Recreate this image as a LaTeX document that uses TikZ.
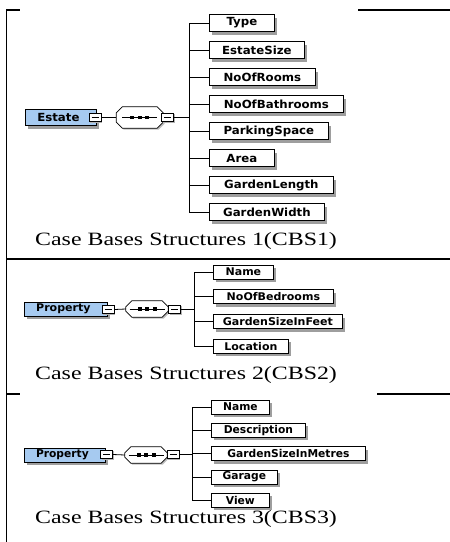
\documentclass[tikz,border=0pt]{standalone}
\usepackage{fontspec}
\setmainfont{Liberation Serif}
\newfontfamily\xsdfont{DejaVu Sans}
\usetikzlibrary{shadows,calc}

\definecolor{rootblue}{RGB}{166,202,240}

% labels are set slightly wide, as the schema viewer draws them
\def\labelsx{1.05}
\newcommand\boxlabel[1]{\scalebox{\labelsx}[1]{#1}}
\newcommand\captext[1]{\scalebox{1.27}[1]{#1}}

\tikzset{
  x=1pt, y=-1pt,
  frameline/.style={line width=1.1pt, line cap=rect},
  wire/.style={line width=0.8pt},
  elem/.style={draw, line width=0.8pt, fill=white, inner sep=0pt,
    drop shadow={shadow xshift=3pt, shadow yshift=-3pt, fill=black!38, opacity=1}},
  rootelem/.style={elem, fill=rootblue},
  minusbox/.style={draw, fill=white, line width=0.7pt, inner sep=0pt,
    minimum width=12pt, minimum height=8.5pt,
    drop shadow={shadow xshift=1.2pt, shadow yshift=-1.2pt, fill=black!30, opacity=1},
    path picture={\draw[line width=0.7pt] ($(path picture bounding box.center)+(-3.5,0)$) -- ++(7,0);}},
  caption/.style={anchor=base west, inner sep=0pt, font=\fontsize{18.8}{22}\selectfont},
}

% sequence compositor: octagon with a dotted bar, drawn round an empty node
\newcommand\seqgroup[5]{%
  \node[minimum width=#4, minimum height=#5, inner sep=0pt] (#1) at (#2,#3) {};
  \path[draw, line width=0.8pt, fill=white,
        drop shadow={shadow xshift=1.5pt, shadow yshift=-1.5pt, fill=black!25, opacity=1}]
    ($(#1.north west)+(0,6)$) -- ($(#1.north west)+(6,0)$) --
    ($(#1.north east)+(-6,0)$) -- ($(#1.north east)+(0,6)$) --
    ($(#1.south east)+(0,-6)$) -- ($(#1.south east)+(-6,0)$) --
    ($(#1.south west)+(6,0)$) -- ($(#1.south west)+(0,-6)$) -- cycle;
  \draw[line width=0.8pt] ($(#1.center)+(-17.5,0)$) -- ($(#1.center)+(17.5,0)$);
  \foreach \dx in {-7.5,0,7.5}
    \fill ($(#1.center)+(\dx-2,-1.6)$) rectangle ($(#1.center)+(\dx+2,1.6)$);
}

\begin{document}
\begin{tikzpicture}
\useasboundingbox (0,0) rectangle (450,542);

% ---------- frame ----------
\coordinate (ftop) at (6.5,10);
\coordinate (fbot) at (6.5,542);
\coordinate (ftopa) at (19,10);
\coordinate (ftopb) at (359,10);
\coordinate (ftopc) at (450,10);
\coordinate (fsepa) at (6.5,259);
\coordinate (fsepb) at (450,259);
\coordinate (fthra) at (6.5,394);
\coordinate (fthrb) at (19,394);
\coordinate (fthrc) at (378,394);
\coordinate (fthrd) at (450,394);
\draw[frameline] (ftopa) -- (ftop) -- (fbot);
\draw[frameline] (ftopb) -- (ftopc);
\draw[frameline] (fsepa) -- (fsepb);
\draw[frameline] (fthra) -- (fthrb);
\draw[frameline] (fthrc) -- (fthrd);

% ---------- CBS1 ----------
\begin{scope}[font=\xsdfont\bfseries\fontsize{11.2}{12}\selectfont]
\def\labelsx{1.05}
\node[rootelem, anchor=west, minimum width=71pt, minimum height=16pt] (ra) at (25,117.5) {\boxlabel{Estate}\kern5pt};
\seqgroup{sa}{139.75}{117.5}{46.5pt}{21pt}
\node[minusbox] (ma) at (95,117.5) {};
\node[minusbox] (mb) at (167.5,117.5) {};
\coordinate (busa) at (189,117.5);
\draw[wire] (ma.east) -- (sa.west);
\draw[wire] (mb.east) -- (busa);
\foreach \nm/\lab/\rx/\cy in {
  a1/Type/274/23, a2/EstateSize/304/50, a3/NoOfRooms/315/77,
  a4/NoOfBathrooms/343/104, a5/ParkingSpace/328/131, a6/Area/274/158,
  a7/GardenLength/333/185, a8/GardenWidth/324/212}{
  \pgfmathsetmacro\boxw{\rx-209}
  \node[elem, anchor=west, minimum width=\boxw pt, minimum height=17pt] (\nm) at (209,\cy) {\boxlabel{\lab}};
  \draw[wire] (busa |- \nm.west) -- (\nm.west);
}
\draw[wire] (busa |- a1.west) -- (busa |- a8.west);
\end{scope}
\node[caption] (capa) at (35,245) {\captext{Case Bases Structures 1(CBS1)}};

% ---------- CBS2 ----------
\begin{scope}[font=\xsdfont\bfseries\fontsize{10.6}{12}\selectfont]
\def\labelsx{1.04}
\node[rootelem, anchor=west, minimum width=83pt, minimum height=14pt] (rb) at (24,309) {\boxlabel{Property}\kern5pt};
\seqgroup{sb}{147}{309}{42pt}{16pt}
\node[minusbox] (mc) at (108,309.5) {};
\node[minusbox] (md) at (174.5,309.5) {};
\coordinate (busb) at (194,309.5);
\draw[wire] (mc.east) -- (sb.west);
\draw[wire] (md.east) -- (busb);
\foreach \nm/\lab/\rx/\cy in {
  b1/Name/273/272, b2/NoOfBedrooms/333/296.8,
  b3/GardenSizeInFeet/342/321.6, b4/Location/288/346.4}{
  \pgfmathsetmacro\boxw{\rx-213}
  \node[elem, anchor=west, minimum width=\boxw pt, minimum height=14pt] (\nm) at (213,\cy) {\boxlabel{\lab}};
  \draw[wire] (busb |- \nm.west) -- (\nm.west);
}
\draw[wire] (busb |- b1.west) -- (busb |- b4.west);
\end{scope}
\node[caption] (capb) at (35,379) {\captext{Case Bases Structures 2(CBS2)}};

% ---------- CBS3 ----------
\begin{scope}[font=\xsdfont\bfseries\fontsize{10.8}{12}\selectfont]
\def\labelsx{0.99}
\node[rootelem, anchor=west, minimum width=81pt, minimum height=14pt] (rc) at (24,455) {\boxlabel{Property}\kern5pt};
\seqgroup{sc}{146}{455}{42pt}{16pt}
\node[minusbox] (me) at (106.5,454.5) {};
\node[minusbox] (mf) at (173,454.5) {};
\coordinate (busc) at (192,454.5);
\draw[wire] (me.east) -- (sc.west);
\draw[wire] (mf.east) -- (busc);
\foreach \nm/\lab/\rx/\cy in {
  c1/Name/269/407, c2/Description/305/430.3,
  c3/GardenSizeInMetres/365/453.6, c4/Garage/277/476.9, c5/View/269/500.2}{
  \pgfmathsetmacro\boxw{\rx-211}
  \node[elem, anchor=west, minimum width=\boxw pt, minimum height=14pt] (\nm) at (211,\cy) {\boxlabel{\lab}};
  \draw[wire] (busc |- \nm.west) -- (\nm.west);
}
\draw[wire] (busc |- c1.west) -- (busc |- c5.west);
\end{scope}
\node[caption] (capc) at (35,523) {\captext{Case Bases Structures 3(CBS3)}};

\end{tikzpicture}
\end{document}
